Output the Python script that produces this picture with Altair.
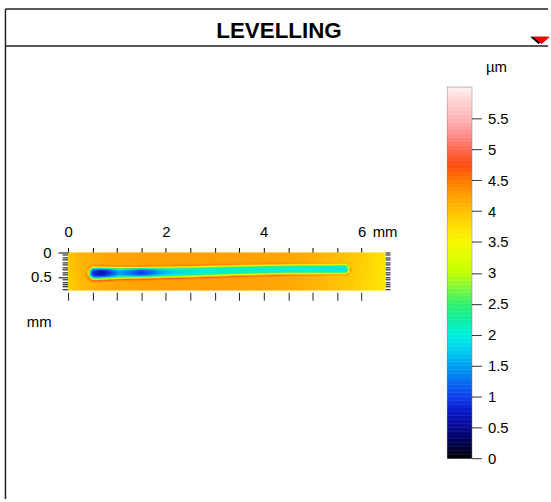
import altair as alt
import numpy as np
import pandas as pd

# ---------------- values ----------------
chart_title = "LEVELLING"
unit_z = "µm"
unit_xy = "mm"

# colour bar (µm) -> colour
cb_stops = [0, 0.25, 0.5, 0.75, 1.0, 1.25, 1.5, 1.75, 2.0, 2.25, 2.5, 2.75, 3.0,
            3.25, 3.5, 3.75, 4.0, 4.25, 4.5, 4.75, 5.0, 5.25, 5.5, 5.75, 6.0]
cb_colors = ["#000000", "#000050", "#0a0a90", "#0818c8", "#1040f0", "#0870f0",
             "#00a0f0", "#00d0f0", "#00f0e0", "#10f0a0", "#30f070", "#80f840",
             "#c0ff00", "#e0ff00", "#f8f800", "#ffe000", "#ffc000", "#ffa000",
             "#ff7800", "#ff4a10", "#ff6a50", "#ff9090", "#ffb4b4", "#ffd0d0",
             "#fff0f0"]
cb_ticks = [0, 0.5, 1, 1.5, 2, 2.5, 3, 3.5, 4, 4.5, 5, 5.5]
cb_band_edges = [i * 0.0625 for i in range(97)]

# axes of the surface map (mm)
x_ticks = [0, 0.5, 1, 1.5, 2, 2.5, 3, 3.5, 4, 4.5, 5, 5.5, 6]
y_ticks = [0, 0.05, 0.1, 0.15, 0.2, 0.25, 0.3, 0.35, 0.4, 0.45, 0.5, 0.55,
           0.6, 0.65, 0.7, 0.75]
x_extent = [0, 6.48]
y_extent = [0, 0.77]

# background level of the surface along x (top and bottom edge), µm
bg_x = [0.0, 0.3, 0.8, 1.5, 2.5, 3.5, 4.3, 4.9, 5.4, 5.9, 6.2, 6.48]
bg_top = [3.95, 4.12, 4.2, 4.24, 4.26, 4.25, 4.22, 4.15, 4.05, 3.92, 3.82, 3.7]
bg_bot = [3.85, 4.05, 4.17, 4.23, 4.25, 4.24, 4.2, 4.12, 4.0, 3.88, 3.78, 3.68]

# scratch centre line (mm)
groove_x = [0.55, 1.5, 2.5, 3.5, 4.5, 5.66]
groove_y = [0.43, 0.42, 0.40, 0.37, 0.35, 0.345]
# height at the bottom of the scratch, µm
depth_x = [0.55, 0.68, 0.85, 1.05, 1.3, 1.5, 1.7, 1.95, 2.3, 2.8, 3.5, 4.2, 5.0, 5.66]
depth_v = [0.8, 0.6, 0.9, 1.5, 1.2, 0.95, 1.2, 1.6, 1.8, 1.95, 2.05, 2.0, 1.95, 1.85]
# relative width of the scratch
width_x = [0.55, 1.0, 1.8, 3.0, 4.5, 5.66]
width_s = [1.25, 1.1, 1.05, 1.0, 0.95, 0.95]
# cross profile: distance from centre (mm) -> share of the depth
prof_d = [0.0, 0.035, 0.06, 0.08, 0.095, 0.105, 0.115, 0.125, 0.14, 0.16]
prof_below = [1.0, 0.97, 0.85, 0.6, 0.35, 0.15, 0.0, -0.22, -0.08, 0.0]
prof_above = [1.0, 0.97, 0.85, 0.6, 0.35, 0.15, 0.0, -0.1, -0.04, 0.0]

# ---------------- surface table ----------------
nx, ny = 162, 38
sx = (x_extent[1] - x_extent[0]) / nx
sy = (y_extent[1] - y_extent[0]) / ny
xs = (np.arange(nx) + 0.5) * sx
ys = (np.arange(ny) + 0.5) * sy
X, Y = np.meshgrid(xs, ys)
t = Y / y_extent[1]
bg = np.interp(X, bg_x, bg_top) * (1 - t) + np.interp(X, bg_x, bg_bot) * t
xc = np.clip(X, groove_x[0], groove_x[-1])
cy = np.interp(xc, groove_x, groove_y)
ws = np.interp(xc, width_x, width_s)
dist = np.hypot(X - xc, Y - cy) / ws
f = np.where(Y > cy, np.interp(dist, prof_d, prof_below), np.interp(dist, prof_d, prof_above))
depth = np.interp(xc, depth_x, depth_v)
Z = bg + f * (depth - bg)

surf = pd.DataFrame({
    "x0": (X - sx / 2).ravel(), "x1": (X + sx / 2).ravel(),
    "y0": (Y - sy / 2).ravel(), "y1": (Y + sy / 2).ravel(),
    "z": Z.ravel(),
})
cb_df = pd.DataFrame({
    "lo": cb_band_edges[:-1], "hi": cb_band_edges[1:],
    "mid": [(a + b) / 2 for a, b in zip(cb_band_edges[:-1], cb_band_edges[1:])],
})
corner_df = pd.DataFrame({"x": x_extent, "y": y_extent})
one = pd.DataFrame({"t": [chart_title]})

FONT = "Liberation Sans"
cscale = alt.Scale(domain=cb_stops, range=cb_colors, interpolate="rgb")

# plot is 41 px tall, the surface fills its top 38 px (0..0.77 mm)
xscale = alt.Scale(domain=x_extent, nice=False, zero=False)
yscale = alt.Scale(domain=[0, 0.8328], nice=False, zero=False, reverse=True)

heat = alt.Chart(surf).mark_rect(strokeWidth=0.6, clip=True).encode(
    x=alt.X("x0:Q", scale=xscale, axis=alt.Axis(
        orient="top", values=x_ticks, domain=False, grid=False, tickSize=5,
        tickColor="black", labelFontSize=15, labelColor="black", labelPadding=8,
        labelFlush=False, labelOverlap=False,
        labelExpr="datum.value % 2 == 0 ? format(datum.value, 'd') : ''",
        title=unit_xy, titleX=306, titleY=-21, titleAlign="left",
        titleBaseline="middle", titleFontSize=15, titleFontWeight="normal")),
    x2="x1:Q",
    y=alt.Y("y0:Q", scale=yscale, axis=alt.Axis(
        orient="left", values=y_ticks, domain=False, grid=False,
        tickSize={"condition": {"test": "datum.value == 0 || abs(datum.value - 0.5) < 0.001", "value": 10}, "value": 6},
        tickColor="black", labelFontSize=15, labelColor="black", labelPadding=7,
        labelOverlap=False, labelFlush=False,
        labelExpr="datum.value == 0 ? '0' : (abs(datum.value - 0.5) < 0.001 ? '0.5' : '')",
        title=unit_xy, titleAngle=0, titleX=-42, titleY=69, titleAlign="left",
        titleBaseline="middle", titleFontSize=15, titleFontWeight="normal")),
    y2="y1:Q",
    color=alt.Color("z:Q", scale=cscale, legend=None),
    stroke=alt.Stroke("z:Q", scale=cscale, legend=None),
)

frame_axes = alt.Chart(corner_df).mark_point(opacity=0).encode(
    x=alt.X("x:Q", scale=xscale, axis=alt.Axis(
        orient="bottom", values=x_ticks, labels=False, domain=False, grid=False,
        tickSize=8, tickColor="#222", offset=-1, title=None)),
    y=alt.Y("y:Q", scale=yscale, axis=alt.Axis(
        orient="right", values=y_ticks, labels=False, domain=False, grid=False,
        tickSize=5, tickColor="black", title=None)),
)

surface = alt.layer(heat, frame_axes).resolve_axis(x="independent", y="independent").properties(
    width=319, height=41)

bands = alt.Chart(cb_df).mark_rect(strokeWidth=0.5).encode(
    x=alt.value(0), x2=alt.value(24),
    y=alt.Y("lo:Q", scale=alt.Scale(domain=[0, 6], nice=False), axis=alt.Axis(
        orient="right", values=cb_ticks, domain=False, grid=False, tickSize=10,
        tickColor="#333", labelFontSize=15, labelColor="black", labelPadding=6,
        format="~g", labelOverlap=False,
        title=unit_z, titleAngle=0, titleX=14, titleY=-16, titleAlign="left",
        titleBaseline="alphabetic", titleFontSize=15, titleFontWeight="normal")),
    y2="hi:Q",
    color=alt.Color("mid:Q", scale=cscale, legend=None),
    stroke=alt.Stroke("mid:Q", scale=cscale, legend=None),
)

line_style = dict(color="#222", strokeWidth=1.5)
left_line = alt.Chart(one).mark_rule(**line_style).encode(
    x=alt.value(-445), y=alt.value(-79), y2=alt.value(414))
top_line = alt.Chart(one).mark_rule(**line_style).encode(
    x=alt.value(-445), x2=alt.value(101), y=alt.value(-79))
head_line = alt.Chart(one).mark_rule(**line_style).encode(
    x=alt.value(-445), x2=alt.value(101), y=alt.value(-41.7))
title_txt = alt.Chart(one).mark_text(
    font=FONT, fontSize=22.5, fontWeight="bold", color="black",
    align="center", baseline="alphabetic").encode(
    text="t:N", x=alt.value(-169.75), y=alt.value(-50))
tri_path = "M-1,-0.43L1,-0.43L0,0.43Z"
tri_dark = alt.Chart(one).mark_point(shape=tri_path, size=289, filled=True,
                                     color="black", opacity=1).encode(
    x=alt.value(91.5), y=alt.value(-47.5))
tri_red = alt.Chart(one).mark_point(shape=tri_path, size=289, filled=True,
                                    color="#ff0000", opacity=1).encode(
    x=alt.value(94.5), y=alt.value(-47.5))

colorbar = alt.layer(bands, left_line, top_line, head_line, title_txt, tri_dark, tri_red).properties(
    width=24, height=373,
    view=alt.ViewBackground(stroke="#888", strokeWidth=1.5))

chart = alt.hconcat(surface, colorbar, spacing=63, center=True, bounds="flush").properties(
    padding={"left": 3.5, "top": 5.5, "right": 0, "bottom": 0},
).configure(font=FONT).configure_view(strokeWidth=0)

chart.save("out.html", embed_options={"renderer": "svg", "actions": False})
